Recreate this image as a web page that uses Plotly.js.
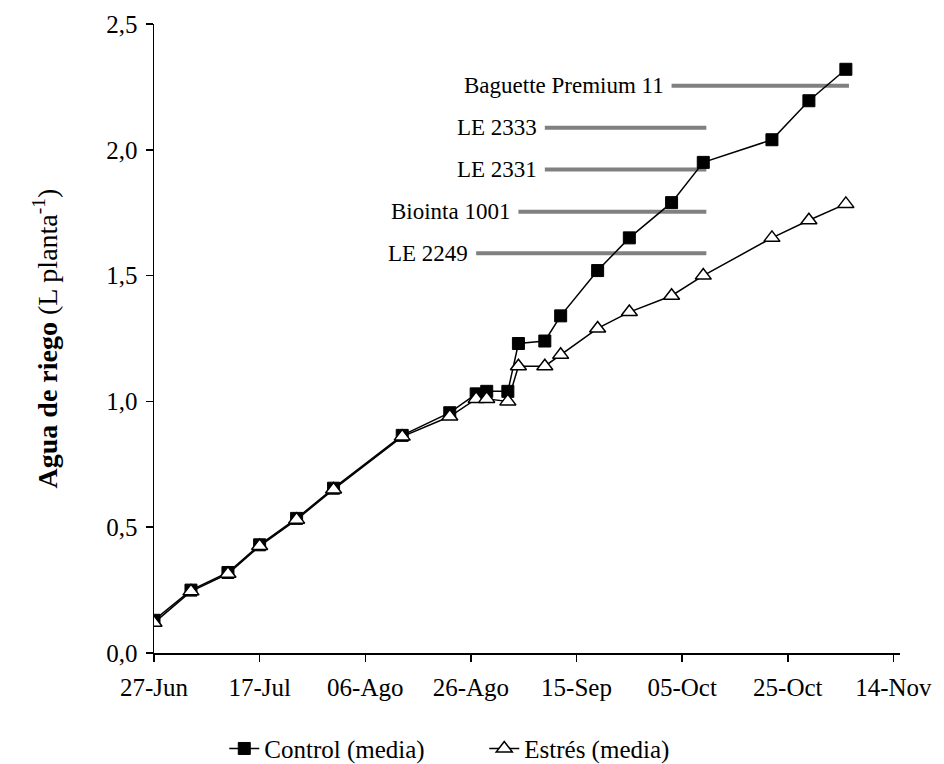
<!DOCTYPE html>
<html>
<head>
<meta charset="utf-8">
<script src="https://cdn.plot.ly/plotly-3.0.1.min.js"></script>
<style>html,body{margin:0;padding:0;background:#fff;}#chart{width:944px;height:764px;}</style>
</head>
<body>
<div id="chart"></div>
<script>
// Sampling dates (same for both series)
const fechas = ['2009-06-27','2009-07-04','2009-07-11','2009-07-17','2009-07-24','2009-07-31','2009-08-13','2009-08-22','2009-08-27','2009-08-29','2009-09-02','2009-09-04','2009-09-09','2009-09-12','2009-09-19','2009-09-25','2009-10-03','2009-10-09','2009-10-22','2009-10-29','2009-11-05'];
const control = [0.13,0.25,0.32,0.43,0.535,0.655,0.865,0.955,1.03,1.04,1.04,1.23,1.24,1.34,1.52,1.65,1.79,1.95,2.04,2.195,2.32];
const estres  = [0.12,0.245,0.315,0.425,0.53,0.65,0.86,0.94,1.01,1.01,1.00,1.14,1.14,1.185,1.29,1.355,1.42,1.50,1.65,1.72,1.785];

// Cultivar periods (gray bars)
const cultivares = ['Baguette Premium 11','LE 2333','LE 2331','Biointa 1001','LE 2249'];
const barraInicio = ['2009-10-03','2009-09-09','2009-09-09','2009-09-04','2009-08-27'];
const barraFin    = ['2009-11-05 14:00','2009-10-09 14:00','2009-10-09 14:00','2009-10-09 14:00','2009-10-09 14:00'];
const barraY      = [2.255,2.088,1.922,1.754,1.589];

// Axis ticks
const xTickVals = ['2009-06-27','2009-07-17','2009-08-06','2009-08-26','2009-09-15','2009-10-05','2009-10-25','2009-11-14'];
const xTickText = ['27-Jun','17-Jul','06-Ago','26-Ago','15-Sep','05-Oct','25-Oct','14-Nov'];
const yTickVals = [0,0.5,1,1.5,2,2.5];

const FONT = 'Liberation Serif, Times New Roman, serif';

const traces = [];
cultivares.forEach((c,i)=>{
  traces.push({x:[barraInicio[i],barraFin[i]], y:[barraY[i],barraY[i]], mode:'lines',
    line:{color:'#808080', width:4}, showlegend:false, hoverinfo:'skip'});
});
traces.push({x:fechas, y:control, name:'Control (media)', mode:'lines+markers',
  line:{color:'#000', width:1.5}, marker:{symbol:'square', size:12, color:'#000', line:{color:'#000', width:1}}});
traces.push({x:fechas, y:estres, name:'Estrés (media)', mode:'lines+markers',
  line:{color:'#000', width:1.5}, marker:{symbol:'triangle-up', size:14, color:'#fff', line:{color:'#000', width:1.5}}});

const annotations = cultivares.map((c,i)=>({
  x:barraInicio[i], y:barraY[i], xref:'x', yref:'y', text:c, showarrow:false,
  xanchor:'right', yanchor:'middle', xshift:-6, font:{family:FONT, size:23, color:'#000'}
}));

const layout = {
  width:944, height:764,
  margin:{l:154, r:44, t:24, b:111},
  paper_bgcolor:'#fff', plot_bgcolor:'#fff',
  separators:',.',
  font:{family:FONT, size:25, color:'#000'},
  showlegend:true,
  legend:{orientation:'h', xref:'container', yref:'container', x:0.513, xanchor:'center', y:0.02, yanchor:'middle',
    font:{family:FONT, size:25, color:'#000'}, itemwidth:30, entrywidth:215, bgcolor:'rgba(0,0,0,0)'},
  xaxis:{type:'date', range:['2009-06-27','2009-11-15 06:00'], tickvals:xTickVals, ticktext:xTickText,
    showgrid:false, zeroline:false, showline:true, linecolor:'#000', linewidth:1.5, automargin:false,
    ticks:'outside', ticklen:7, tickwidth:1.5, tickcolor:'#000', tickfont:{family:FONT, size:25}, ticklabelstandoff:4},
  yaxis:{range:[0,2.5], tickvals:yTickVals, tickformat:'.1f', automargin:false,
    showgrid:false, zeroline:false, showline:true, linecolor:'#000', linewidth:1.5,
    ticks:'outside', ticklen:7, tickwidth:1.5, tickcolor:'#000', tickfont:{family:FONT, size:25}, ticklabelstandoff:3,
    title:{text:'<b>Agua de riego</b> (L planta<sup>-1</sup>)', font:{family:FONT, size:28}, standoff:40}},
  annotations:annotations
};

Plotly.newPlot('chart', traces, layout, {displayModeBar:false, staticPlot:true});
</script>
</body>
</html>
